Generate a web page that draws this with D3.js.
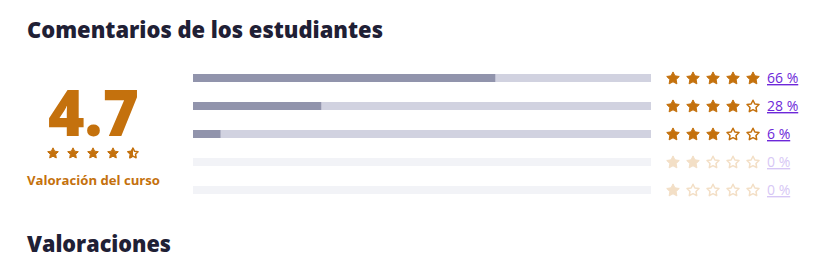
<!DOCTYPE html>
<html><head><meta charset="utf-8">
<script src="https://cdn.jsdelivr.net/npm/d3@7"></script>
<style>body{margin:0;background:#fff}svg{display:block}</style>
</head><body>
<svg id="c" width="828" height="264"></svg>
<script>
const title = "Comentarios de los estudiantes";
const subtitle = "Valoraciones";
const averageRating = 4.7;
const averageLabel = "Valoración del curso";
const starLevels = [5, 4, 3, 2, 1];
const percentages = [66, 28, 6, 0, 0];
const percentLabels = ["66 %", "28 %", "6 %", "0 %", "0 %"];

const svg = d3.select("#c");
const orange = "#c4710d", fadedOrange = "#f3dfc6";
const purple = "#6d28d9", fadedPurple = "#d7c7f5";
const dark = "#1f2035";
const font = "'Open Sans', 'Noto Sans', sans-serif";

svg.append("text").attr("x", 27).attr("y", 38).text(title)
  .attr("font-family", font).attr("font-weight", 800).attr("font-size", 22)
  .attr("textLength", 356).attr("lengthAdjust", "spacingAndGlyphs").attr("fill", dark);
svg.append("text").attr("x", 27).attr("y", 252).text(subtitle)
  .attr("font-family", font).attr("font-weight", 800).attr("font-size", 22)
  .attr("textLength", 144).attr("lengthAdjust", "spacingAndGlyphs").attr("fill", dark);

// big rating
svg.append("text").attr("x", 48).attr("y", 136)
  .text(averageRating.toFixed(1))
  .attr("font-family", font).attr("font-weight", 800).attr("font-size", 64)
  .attr("textLength", 91).attr("lengthAdjust", "spacingAndGlyphs").attr("fill", orange);
svg.append("text").attr("x", 27).attr("y", 185)
  .text(averageLabel)
  .attr("font-family", font).attr("font-weight", 700).attr("font-size", 13)
  .attr("textLength", 133).attr("lengthAdjust", "spacingAndGlyphs").attr("fill", orange);

const line = d3.line().curve(d3.curveLinearClosed);
function starPath(r) {
  const pts = d3.range(10).map(i => {
    const a = -Math.PI / 2 + i * Math.PI / 5;
    const rr = i % 2 === 0 ? r : r * 0.5;
    return [rr * Math.cos(a), rr * Math.sin(a)];
  });
  return line(pts);
}
const defs = svg.append("defs");

function drawStar(g, cx, cy, r, fillFrac, color) {
  const s = g.append("g").attr("transform", `translate(${cx},${cy + r * 0.08})`);
  if (fillFrac >= 1) {
    s.append("path").attr("d", starPath(r)).attr("fill", color)
      .attr("stroke", color).attr("stroke-width", 1).attr("stroke-linejoin", "round");
  } else {
    s.append("path").attr("d", starPath(r - 0.3)).attr("fill", "#fff")
      .attr("stroke", color).attr("stroke-width", 1.5).attr("stroke-linejoin", "round");
    if (fillFrac > 0) {
      const id = "clip" + Math.round(cx) + "_" + Math.round(cy);
      defs.append("clipPath").attr("id", id).append("rect")
        .attr("x", -r - 2).attr("y", -r - 2).attr("width", 2 + 2 * r * fillFrac).attr("height", 2 * r + 4);
      s.append("path").attr("d", starPath(r)).attr("fill", color)
        .attr("stroke", color).attr("stroke-width", 1).attr("stroke-linejoin", "round")
        .attr("clip-path", `url(#${id})`);
    }
  }
}

const sx = d3.scalePoint().domain([1, 2, 3, 4, 5]).range([53, 133]);
const bigStars = svg.append("g");
[1, 2, 3, 4, 5].forEach(k => {
  const frac = Math.max(0, Math.min(1, averageRating - (k - 1)));
  drawStar(bigStars, sx(k), 153, 5.6, frac >= 0.95 ? 1 : (frac > 0 ? 0.5 : 0), orange);
});

// bars
const x = d3.scaleLinear().domain([0, 100]).range([193, 651]);
const y = d3.scaleBand().domain(starLevels).range([64, 204]);
const barH = 8;
const rows = svg.selectAll("g.row").data(starLevels.map((s, i) => ({ s, p: percentages[i], l: percentLabels[i] })))
  .join("g").attr("class", "row");
rows.append("rect").attr("x", x(0)).attr("y", d => y(d.s) + y.bandwidth() / 2 - barH / 2)
  .attr("width", x(100) - x(0)).attr("height", barH)
  .attr("fill", d => d.p > 0 ? "#d1d2e0" : "#f2f3f7");
rows.append("rect").attr("x", x(0)).attr("y", d => y(d.s) + y.bandwidth() / 2 - barH / 2)
  .attr("width", d => x(d.p) - x(0)).attr("height", barH).attr("fill", "#9194ac");

const rx = d3.scalePoint().domain([1, 2, 3, 4, 5]).range([673, 753]);
rows.each(function (d) {
  const g = d3.select(this);
  const cy = y(d.s) + y.bandwidth() / 2;
  const col = d.p > 0 ? orange : fadedOrange;
  [1, 2, 3, 4, 5].forEach(k => drawStar(g, rx(k), cy, 6.6, k <= d.s ? 1 : 0, col));
  g.append("text").attr("x", 767).attr("y", cy + 5).text(d.l)
    .attr("font-family", font).attr("font-size", 14)
    .attr("text-decoration", "underline")
    .attr("fill", d.p > 0 ? purple : fadedPurple);
});
</script>
</body></html>
